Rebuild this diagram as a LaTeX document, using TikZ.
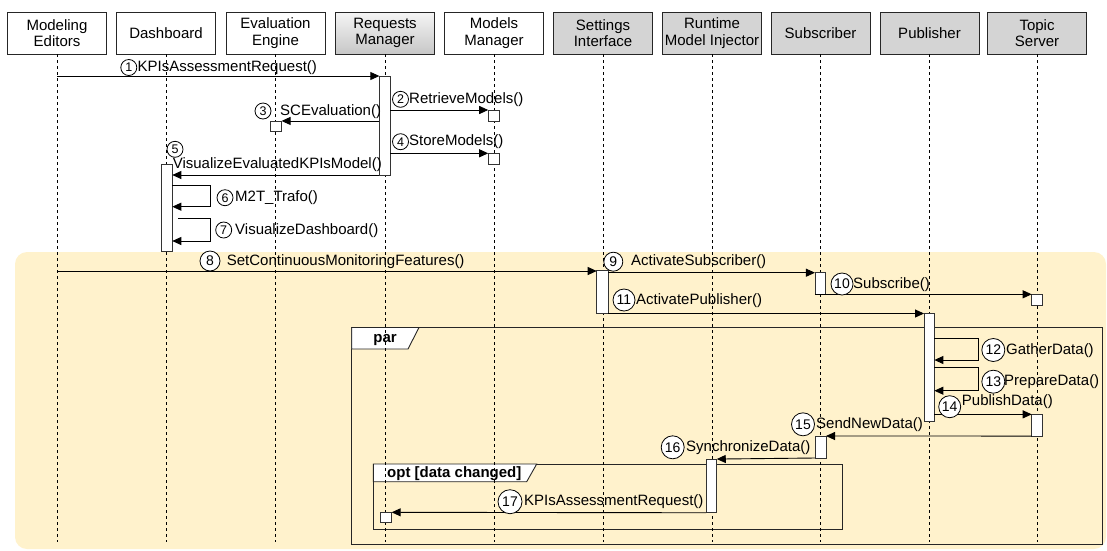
\documentclass[tikz,border=0pt]{standalone}
\usepackage{fontspec}
\setmainfont{Liberation Sans}
\usetikzlibrary{arrows.meta}
\definecolor{bgyellow}{HTML}{FFF2CC}
\definecolor{grayhdr}{HTML}{D4D4D4}
\begin{document}
\begin{tikzpicture}[x=1pt,y=-1pt,
  font=\fontsize{15}{16.7}\selectfont,
  hdr/.style={draw=black!85, line width=0.9pt, minimum width=99pt, minimum height=42pt, align=center, inner sep=0pt, outer sep=0pt},
  hdrw/.style={hdr, fill=white},
  hdrg/.style={hdr, fill=grayhdr},
  hdrs/.style={hdr, top color=white!96!black, bottom color=black!22},
  life/.style={draw=black, line width=0.8pt, dash pattern=on 3pt off 3pt},
  act/.style={draw=black!80, fill=white, line width=0.9pt, inner sep=0pt, outer sep=0pt},
  msg/.style={draw=black, line width=0.9pt, -{Triangle[length=9pt,width=8pt]}},
  num/.style={circle, draw=black, fill=white, line width=0.8pt, inner sep=0pt, minimum size=#1},
  num/.default=16pt,
  sn/.style={num, font=\fontsize{12.5}{12.5}\selectfont},
  bn/.style={num=#1, font=\fontsize{14}{14}\selectfont},
  bn/.default=23pt,
  lbl/.style={anchor=west, inner sep=0pt, text height=11pt, text depth=3pt},
  frm/.style={draw=black!85, line width=0.9pt},
  tabtxt/.style={font=\fontsize{15}{15}\selectfont\bfseries, inner sep=0pt, text height=11pt, text depth=3pt}
]
\useasboundingbox (0,0) rectangle (1107,550);

% background
\fill[bgyellow, rounded corners=12pt] (15,252) rectangle (1106,549);

% frames
\draw[frm] (351.7,327.5) rectangle (1102.7,544.3);
\draw[frm, fill=white] (351.7,327.5) -- (419,327.5) -- (408,349) -- (351.7,349) -- cycle;
\node[tabtxt] (parlbl) at (385,338.5) {par};
\draw[frm] (373.3,464) rectangle (842.3,529.3);
\draw[frm, fill=white] (373.3,464) -- (536.7,464) -- (526.7,481.7) -- (373.3,481.7) -- cycle;
\node[tabtxt, anchor=west] (optlbl) at (387,473) {opt [data changed]};

% headers
\node[hdrw] (hME) at (57,33) {Modeling\\Editors};
\node[hdrw] (hDB) at (166,33) {Dashboard};
\node[hdrw] (hEE) at (275.5,33) {Evaluation\\Engine};
\node[hdrs] (hRM) at (385,33) {Requests\\Manager};
\node[hdrw] (hMM) at (494,33) {Models\\Manager};
\node[hdrg] (hSI) at (603,33) {Settings\\Interface};
\node[hdrg] (hRI) at (712,33) {Runtime\\Model Injector};
\node[hdrg] (hSU) at (820.5,33) {Subscriber};
\node[hdrg] (hPU) at (929.5,33) {Publisher};
\node[hdrg] (hTS) at (1037,33) {Topic\\Server};

% lifeline ends
\coordinate (eME) at (57,542);
\coordinate (eDB) at (166,542);
\coordinate (eEE) at (275.5,542);
\coordinate (eRM) at (385,542);
\coordinate (eMM) at (494,542);
\coordinate (eSI) at (603,542);
\coordinate (eRI) at (712,542);
\coordinate (eSU) at (820.5,542);
\coordinate (ePU) at (929.5,542);
\coordinate (eTS) at (1037,542);
\foreach \h/\e in {hME/eME,hDB/eDB,hEE/eEE,hRM/eRM,hMM/eMM,hSI/eSI,hRI/eRI,hSU/eSU,hPU/ePU,hTS/eTS}
  \draw[life] (\h.south) -- (\e);

% activations
\node[act, minimum width=10.7pt, minimum height=99pt] (aRM1) at (384.7,125.5) {};
\node[act, minimum width=11pt, minimum height=11pt] (sqMM1) at (493.7,115.5) {};
\node[act, minimum width=11.5pt, minimum height=10.5pt] (sqEE) at (275.8,126.2) {};
\node[act, minimum width=11pt, minimum height=11pt] (sqMM2) at (493.7,158.8) {};
\node[act, minimum width=10.6pt, minimum height=87pt] (aDB) at (167,207.5) {};
\node[act, minimum width=11.6pt, minimum height=42.8pt] (aSI) at (602.5,292.1) {};
\node[act, minimum width=10.7pt, minimum height=21.6pt] (aSUB1) at (820.3,283.5) {};
\node[act, minimum width=10.6pt, minimum height=11pt] (sqTS1) at (1037,299.8) {};
\node[act, minimum width=10.3pt, minimum height=108.2pt] (aPUB) at (929.2,367.6) {};
\node[act, minimum width=10.6pt, minimum height=21.7pt] (aTS2) at (1037,425.2) {};
\node[act, minimum width=11pt, minimum height=22pt] (aSUB2) at (820.5,447) {};
\node[act, minimum width=10.7pt, minimum height=53.7pt] (aRMI) at (711.4,485.9) {};
\node[act, minimum width=11.7pt, minimum height=10.4pt] (sqRM2) at (385.8,517.5) {};

% messages
\coordinate (m1s) at (57,76);
\draw[msg] (m1s) -- (aRM1.north west);
\draw[msg] (aRM1.east |- sqMM1.north) -- (sqMM1.north west);
\draw[msg] (aRM1.west |- sqEE.north) -- (sqEE.north east);
\draw[msg] (aRM1.east |- sqMM2.north) -- (sqMM2.north west);
\draw[msg] (aRM1.south west) -- (aDB.east |- aRM1.south);
\coordinate (s6a) at (210,185.7);
\coordinate (s6b) at (210,206.7);
\draw[msg] (aDB.east |- s6a) -- (s6a) -- (s6b) -- (aDB.east |- s6b);
\coordinate (s7o) at (178,218.3);
\coordinate (s7a) at (210,218.3);
\coordinate (s7b) at (210,241);
\draw[msg] (s7o) -- (s7a) -- (s7b) -- (aDB.east |- s7b);
\coordinate (m8s) at (57,271);
\draw[msg] (m8s) -- (aSI.west |- m8s);
\draw[msg] (aSI.east |- aSUB1.north) -- (aSUB1.north west);
\draw[msg] (aSUB1.south west) -- (sqTS1.north west);
\draw[msg] (aSI.south east) -- (aPUB.north west);
\coordinate (s12a) at (978.3,338.3);
\coordinate (s12b) at (978.3,360);
\draw[msg] (aPUB.east |- s12a) -- (s12a) -- (s12b) -- (aPUB.east |- s12b);
\coordinate (s13a) at (978.3,367.7);
\coordinate (s13b) at (978.3,390.7);
\draw[msg] (aPUB.east |- s13a) -- (s13a) -- (s13b) -- (aPUB.east |- s13b);
\draw[msg] (aPUB.east |- aTS2.north) -- (aTS2.north west);
\draw[msg] (aTS2.south west) -- (aSUB2.north east);
\draw[msg] (aSUB2.south west) -- (aRMI.north east);
\draw[msg] (aRMI.south west) -- (sqRM2.north east);

% labels
\node[sn] (c1) at (128.8,67.5) {1};
\node[lbl] (t1) at (137.5,67.5) {KPIsAssessmentRequest()};
\node[sn] (c2) at (400.5,99.3) {2};
\node[lbl] (t2) at (409,99.3) {RetrieveModels()};
\node[sn] (c3) at (263,111) {3};
\node[lbl] (t3) at (280,111) {SCEvaluation()};
\node[sn] (c4) at (400.5,141.7) {4};
\node[lbl] (t4) at (409,141.7) {StoreModels()};
\node[sn] (c5) at (175,149.3) {5};
\node[lbl, anchor=east] (t5) at (382,164.3) {VisualizeEvaluatedKPIsModel()};
\node[sn] (c6) at (225,197.7) {6};
\node[lbl] (t6) at (235,197.7) {M2T\_Trafo()};
\node[sn] (c7) at (223.7,230) {7};
\node[lbl] (t7) at (235,230) {VisualizeDashboard()};
\node[bn=20pt] (c8) at (210,261) {8};
\node[lbl] (t8) at (226.7,261) {SetContinuousMonitoringFeatures()};
\node[bn=19pt] (c9) at (613.3,261.7) {9};
\node[lbl] (t9) at (631,261.7) {ActivateSubscriber()};
\node[bn=22pt] (c10) at (842,284) {10};
\node[lbl] (t10) at (853,284) {Subscribe()};
\node[bn=22pt] (c11) at (624,300) {11};
\node[lbl] (t11) at (636,300) {ActivatePublisher()};
\node[bn] (c12) at (993.3,350) {12};
\node[lbl] (t12) at (1006,350) {GatherData()};
\node[bn] (c13) at (993.3,381.7) {13};
\node[lbl] (t13) at (1004,381.7) {PrepareData()};
\node[bn=22pt] (c14) at (949.7,406.7) {14};
\node[lbl] (t14) at (961.7,401.7) {PublishData()};
\node[bn] (c15) at (803,424.3) {15};
\node[lbl] (t15) at (816,424.3) {SendNewData()};
\node[bn] (c16) at (672.7,447.3) {16};
\node[lbl] (t16) at (686,447.3) {SynchronizeData()};
\node[bn=24pt] (c17) at (510,501.7) {17};
\node[lbl] (t17) at (524,501.7) {KPIsAssessmentRequest()};
\end{tikzpicture}
\end{document}
